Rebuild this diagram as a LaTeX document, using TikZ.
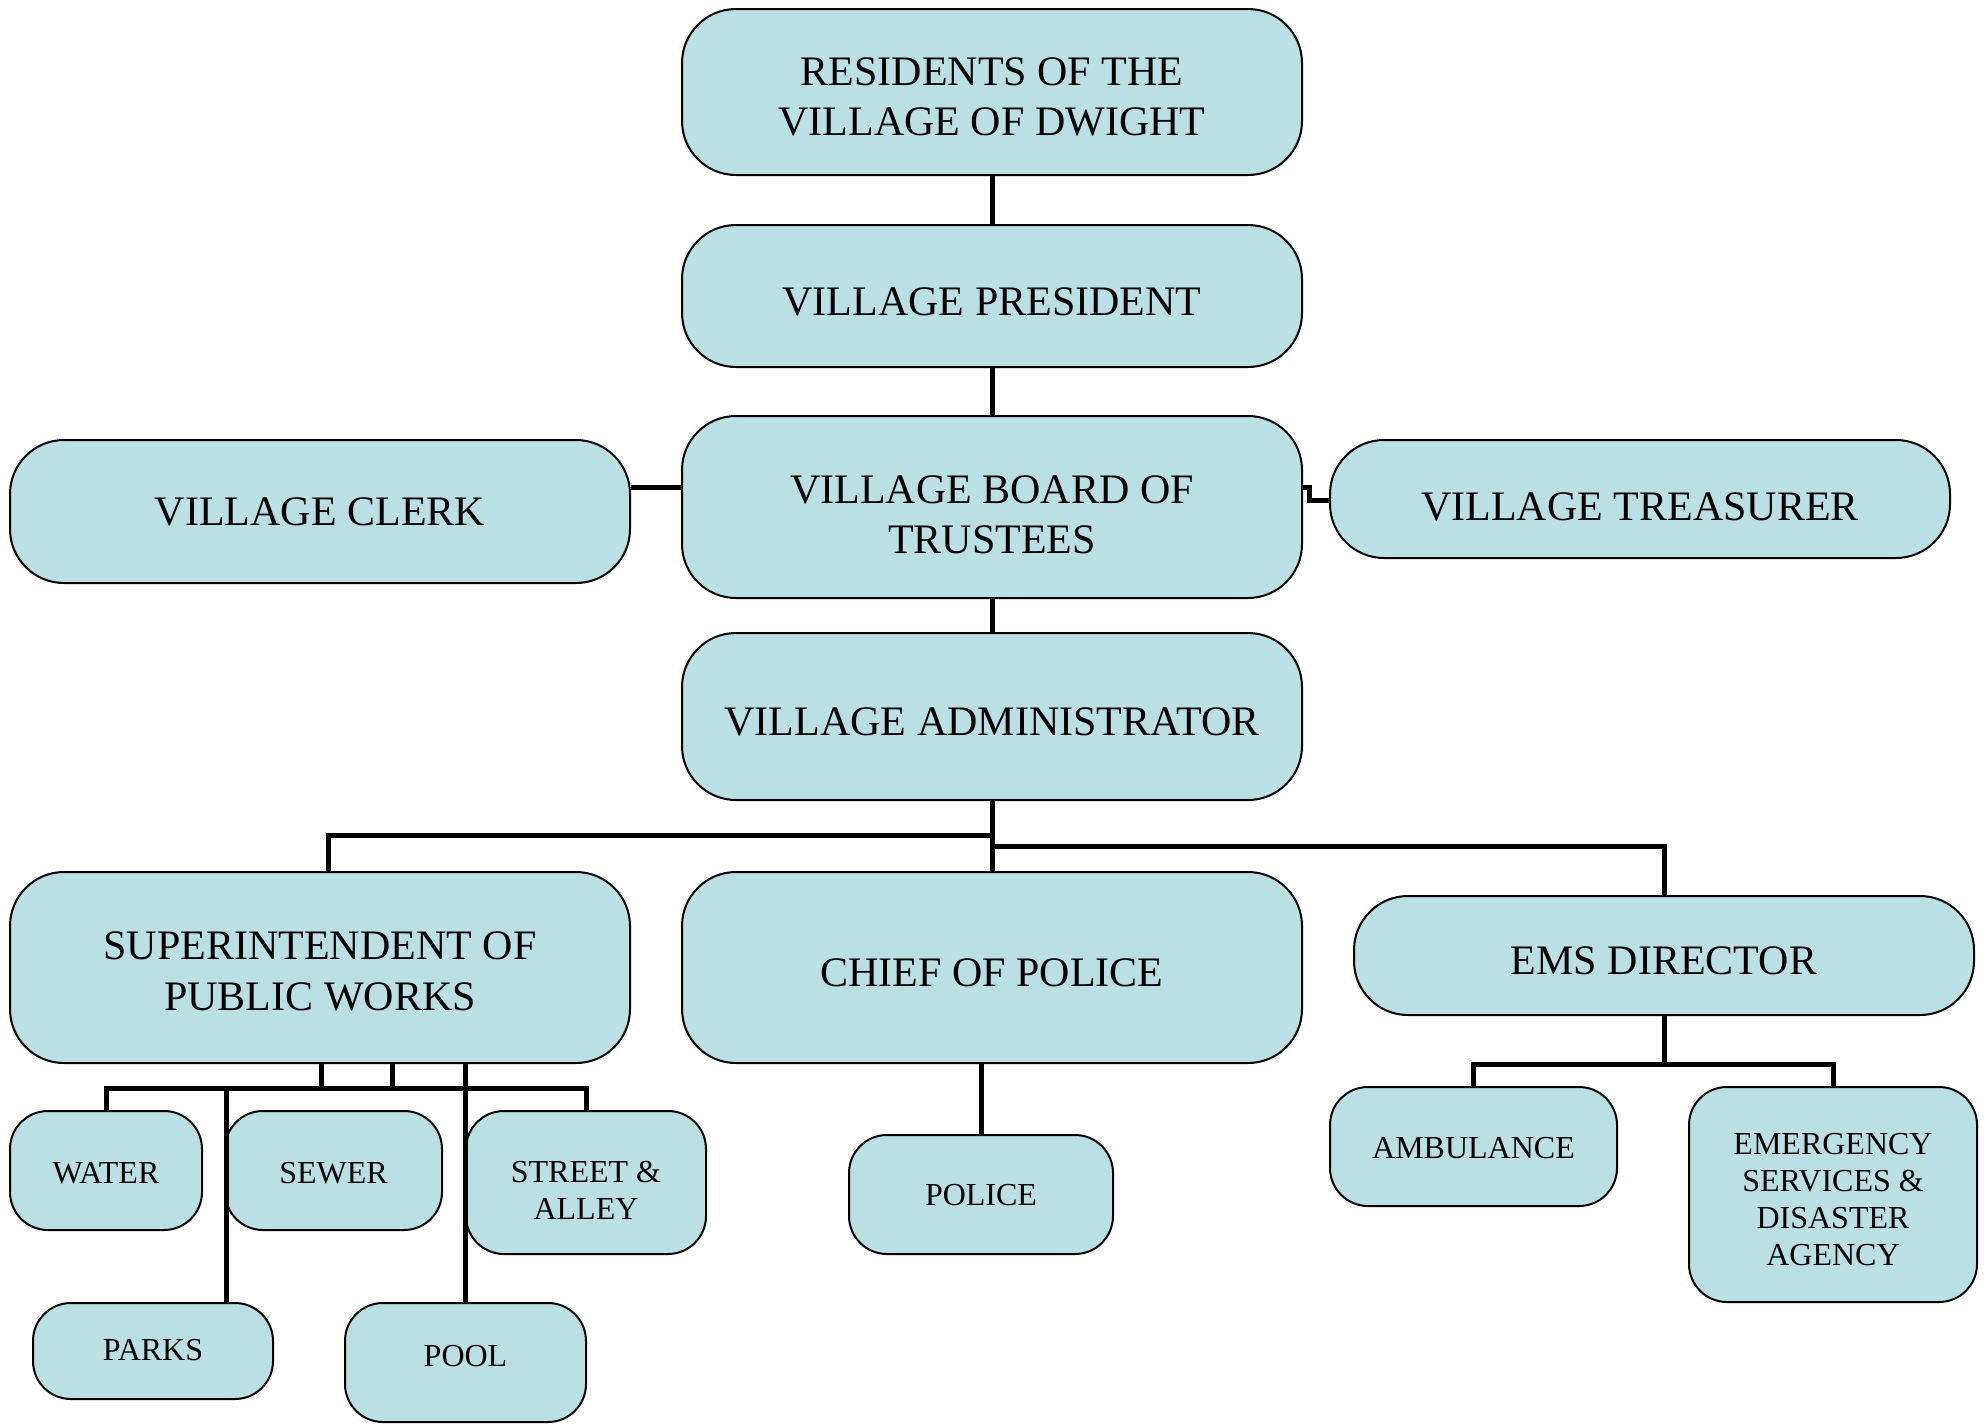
\documentclass[tikz,border=0pt]{standalone}
\usepackage{fontspec}
\setmainfont{Liberation Serif}
\definecolor{boxfill}{RGB}{186,224,228}
\tikzset{
  box/.style={draw=black, line width=1pt, fill=boxfill, inner sep=0pt},
  bigbox/.style={box, rounded corners=27pt},
  smallbox/.style={box, rounded corners=19pt},
  bigtext/.style={align=center, inner sep=0pt, font=\fontsize{21}{25.3}\selectfont},
  smalltext/.style={align=center, inner sep=0pt, font=\fontsize{16}{18.4}\selectfont},
  conn/.style={draw=black, line width=2.5pt}
}
\newcommand{\orgbox}[8]{%
  \node[#1box, minimum width=#5pt, minimum height=#6pt] (#2) at (#3,#4) {};
  \node[#1text, yshift=#7pt] (#2T) at (#2.center) {#8};
}
\begin{document}
\begin{tikzpicture}[x=0.5pt,y=-0.5pt]
\useasboundingbox (0,0) rectangle (1984,1424);
\coordinate (cbL) at (0,487);
\coordinate (tbL) at (0,500);
\coordinate (busA) at (0,835);
\coordinate (busB) at (0,846);
\coordinate (sxc) at (328,0);
\coordinate (pwbus) at (0,1088);
\coordinate (pk) at (226,0);
\coordinate (v1) at (321,0);
\coordinate (v2) at (392,0);
\coordinate (emsbus) at (0,1064);

% boxes: style, name, x, y, width(pt), height(pt), text shift(pt), text
\orgbox{big}{res}{992}{92}{310}{83}{-2.5}{RESIDENTS OF THE\\VILLAGE OF DWIGHT}
\orgbox{big}{pres}{992}{296}{310}{71}{-3}{VILLAGE PRESIDENT}
\orgbox{big}{board}{992}{507}{310}{91}{-3.8}{VILLAGE BOARD OF\\TRUSTEES}
\orgbox{big}{clerk}{320}{511.5}{310}{71.5}{0}{VILLAGE CLERK}
\orgbox{big}{treas}{1640}{499}{310}{59}{-3.8}{VILLAGE TREASURER}
\orgbox{big}{admin}{992}{716.5}{310}{83.5}{-2.5}{VILLAGE ADMINISTRATOR}
\orgbox{big}{super}{320}{967.5}{310}{95.5}{-2}{SUPERINTENDENT OF\\PUBLIC WORKS}
\orgbox{big}{chief}{992}{967.5}{310}{95.5}{-2.5}{CHIEF OF POLICE}
\orgbox{big}{ems}{1664}{955.5}{310}{59.5}{-2.5}{EMS DIRECTOR}
\orgbox{small}{water}{106}{1170.5}{96}{59.5}{-1.2}{WATER}
\orgbox{small}{sewer}{333.5}{1170.5}{108.5}{59.5}{-1.2}{SEWER}
\orgbox{small}{street}{586}{1182.5}{120}{71.5}{-3.8}{STREET \&\\ALLEY}
\orgbox{small}{parks}{153}{1351}{120}{48}{0.5}{PARKS}
\orgbox{small}{pool}{465.5}{1362.5}{120.5}{59.5}{3}{POOL}
\orgbox{small}{police}{981}{1194.5}{132}{59.5}{-0.5}{POLICE}
\orgbox{small}{amb}{1473.5}{1146.5}{143.5}{59.5}{-1}{AMBULANCE}
\orgbox{small}{emer}{1833}{1194.5}{144}{107.5}{-2.5}{EMERGENCY\\SERVICES \&\\DISASTER\\AGENCY}

% connectors
\draw[conn] (res.south) -- (pres.north);
\draw[conn] (pres.south) -- (board.north);
\draw[conn] (clerk.east |- cbL) -- (board.west |- cbL);
\draw[conn] (board.east |- cbL) -- ++(6,0) |- (treas.west |- tbL);
\draw[conn] (board.south) -- (admin.north);
\draw[conn] (admin.south) -- (chief.north);
\draw[conn] (admin.south |- busA) -- (sxc |- busA) -- (super.north -| sxc);
\draw[conn] (admin.south |- busB) -- (ems.north |- busB) -- (ems.north);
\draw[conn] (super.south -| v1) -- (v1 |- pwbus);
\draw[conn] (super.south -| v2) -- (v2 |- pwbus);
\draw[conn] (pool.north |- super.south) -- (pool.north);
\draw[conn] (water.north) -- (water.north |- pwbus) -- (street.north |- pwbus) -- (street.north);
\draw[conn] (pk |- pwbus) -- (parks.north -| pk);
\draw[conn] (police.north |- chief.south) -- (police.north);
\draw[conn] (ems.south) -- (ems.south |- emsbus);
\draw[conn] (amb.north) -- (amb.north |- emsbus) -- (emer.north |- emsbus) -- (emer.north);
\end{tikzpicture}
\end{document}
